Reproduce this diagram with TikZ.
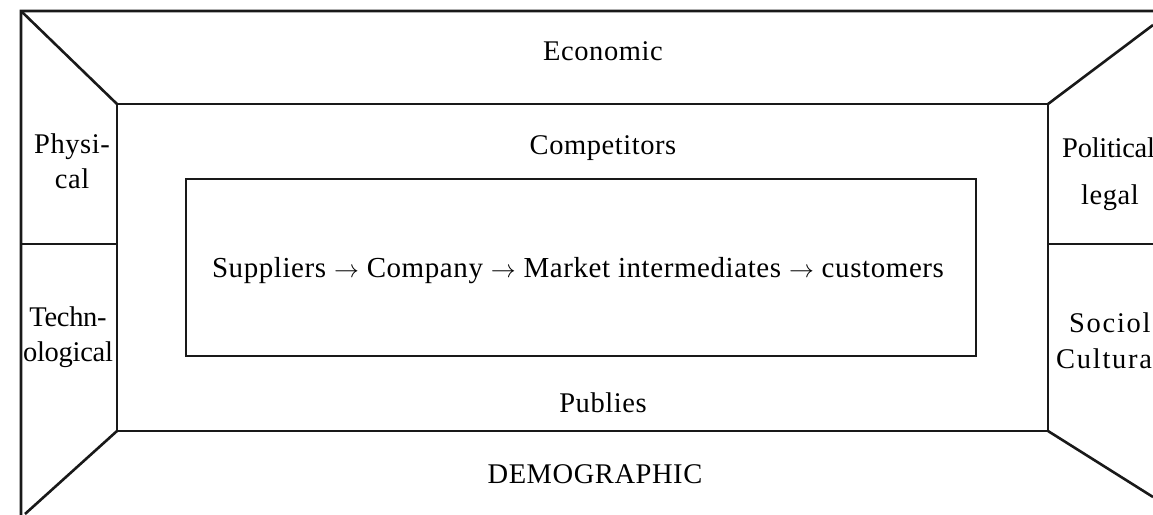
\documentclass[tikz,border=0pt]{standalone}
\usepackage{fontspec}
\setmainfont{Liberation Serif}[LetterSpace=2]
\begin{document}
\begin{tikzpicture}[x=1pt,y=-1pt,
  frame/.style={draw=black!90, line width=2.6pt, line join=miter},
  inbox/.style={draw=black!90, line width=2.2pt},
  lbl/.style={inner sep=0pt, align=center, font=\fontsize{28.5}{35}\selectfont},
  tight/.style={font=\fontsize{28.5}{35}\selectfont\addfontfeature{LetterSpace=-1}},
  wide/.style={font=\fontsize{28.5}{35}\selectfont\addfontfeature{LetterSpace=6}}]
\useasboundingbox (0,0) rectangle (1153,514);
\clip (0,0) rectangle (1153,514);
% outer frame corners (some off-canvas)
\coordinate (o1) at (21,11);
\coordinate (o2) at (1172,11);
\coordinate (o3) at (1172,545);
\coordinate (o4) at (21,517);
% middle rectangle
\coordinate (m1) at (117,104);
\coordinate (m2) at (1048,104);
\coordinate (m3) at (1048,431);
\coordinate (m4) at (117,431);
\draw[frame] (o1) -- (o2) -- (o3) -- (o4) -- cycle;
\draw[frame] (m1) -- (m2) -- (m3) -- (m4) -- cycle;
\draw[frame] (o1) -- (m1);
\draw[frame] (m2) -- (1153,25) coordinate (d2);
\draw[frame] (m3) -- (1153,497) coordinate (d3);
\draw[frame] (m4) -- (25,514) coordinate (d4);
\draw[frame] (21,244) coordinate (l1) -- (m1 |- l1);
\draw[frame] (m2 |- l1) -- (1160,244);
% inner box
\node[inbox, minimum width=790pt, minimum height=177pt, inner sep=0pt] (core) at (581,267.5) {};
\node[lbl, font=\fontsize{29}{35}\selectfont] (chain) at (578,271) {Suppliers $\rightarrow$ Company $\rightarrow$ Market intermediates $\rightarrow$ customers};
% labels
\node[lbl] (econ) at (603,51) {Economic};
\node[lbl] (comp) at (603,148) {Competitors};
\node[lbl] (pub) at (603,403) {Publies};
\node[lbl] (demo) at (595,474) {DEMOGRAPHIC};
\node[lbl, anchor=north] (phys) at (72,134) {Physi-\\cal};
\node[lbl, tight, anchor=north] (tech) at (68,307) {Techn-\\ological};
\node[lbl, tight, anchor=west] (pol) at (1062,148) {Political};
\node[lbl] (legal) at (1110,198) {legal};
\node[lbl, wide, anchor=west] (soc) at (1069,323) {Sociol};
\node[lbl, wide, anchor=west] (cult) at (1056,359) {Cultura};
\end{tikzpicture}
\end{document}
